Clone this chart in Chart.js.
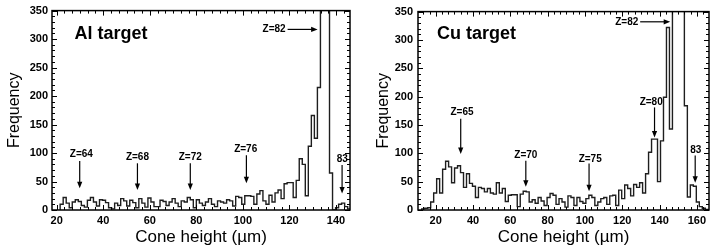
<!DOCTYPE html>
<html><head><meta charset="utf-8">
<script src="https://cdn.jsdelivr.net/npm/chart.js@4.4.1/dist/chart.umd.min.js"></script>
<style>
html,body{margin:0;padding:0;background:#fff;}
#wrap{position:relative;width:720px;height:250px;overflow:hidden;}
.panel{position:absolute;top:0;width:360px;height:250px;}
</style></head><body>
<div id="wrap">
<div class="panel" style="left:0"><canvas id="al" width="360" height="250"></canvas></div>
<div class="panel" style="left:360px"><canvas id="cu" width="360" height="250"></canvas></div>
</div>
<script>
// ---------- data: Al target ----------
const alTitle = 'Al target';
const alBinStart = 21.5;
const alBinWidth = 1.3;
const alCounts = [
  10,22,12,4,14,18,15,8,5,17,
  22,14,7,18,17,13,4,2,12,8,
  20,16,7,17,13,4,20,12,5,21,
  14,6,6,17,15,8,14,20,12,6,
  16,14,22,18,4,18,12,8,14,20,
  10,6,16,14,12,18,16,7,24,22,
  10,25,25,24,10,28,34,16,10,26,
  14,30,35,20,46,48,48,22,52,90,
  80,25,112,166,126,215,480,620,540,65,
  0,4,10,12,6,2
];
const alXRange = [18, 146];
const alXTicks = [20,40,60,80,100,120,140];
const alMarkerLabels = ['Z=64','Z=68','Z=72','Z=76','83'];
const alMarkerLabelX = [30.6,54.7,77.4,101.2,142.7];
const alMarkerLabelY = [97,92,92,106,89];
const alMarkerX = [29.9,54.7,77.4,101.5,142.6];
const alMarkerTop = [86,82,82,96,79];
const alMarkerTip = [38,35,35,47,29];
const alPeakLabel = 'Z=82';
const alPeakLabelAt = [113.4, 317];
const alPeakArrow = [119.2, 132.1, 317];
const alTitleAt = [27.7, 301];

// ---------- data: Cu target ----------
const cuTitle = 'Cu target';
const cuBinStart = 12.5;
const cuBinWidth = 1.6;
const cuCounts = [
  2,3,4,14,30,55,30,72,86,76,
  48,74,78,66,40,64,47,42,22,40,
  38,32,38,30,28,48,30,38,15,26,
  27,27,6,28,33,32,14,18,12,22,
  16,8,22,29,26,10,20,14,5,25,
  22,8,22,15,12,20,26,22,8,14,
  20,22,10,25,26,8,35,20,44,38,
  25,45,40,48,30,64,102,125,125,50,
  122,199,322,143,560,720,650,480,184,23,
  44,42,14,6,3,1
];
const cuXRange = [10.5, 166.5];
const cuXTicks = [20,40,60,80,100,120,140,160];
const cuMarkerLabels = ['Z=65','Z=70','Z=75','Z=80','83'];
const cuMarkerLabelX = [34.1,68.3,102.8,135.5,159.4];
const cuMarkerLabelY = [172,97,90,190,105];
const cuMarkerX = [33.4,68.3,102.2,137.3,159.1];
const cuMarkerTop = [161,87,82,181,96];
const cuMarkerTip = [99,41,33,128,48];
const cuPeakLabel = 'Z=82';
const cuPeakLabelAt = [122.4, 332];
const cuPeakArrow = [129.6, 145.7, 332];
const cuTitleAt = [20.7, 301];

// ---------- shared axis ----------
const yRange = [0, 350];
const yTicks = [0,50,100,150,200,250,300,350];
const yLabel = 'Frequency';
const xLabel = 'Cone height (\u00b5m)';

const FONT = '"Liberation Sans", Arial, Helvetica, sans-serif';
Chart.defaults.font.family = FONT;
Chart.defaults.color = '#000';

function histPoints(start, width, counts) {
  const pts = [{x: start, y: 0}];
  counts.forEach((c, i) => pts.push({x: start + i * width, y: c}));
  pts.push({x: start + counts.length * width, y: 0});
  return pts;
}

function decoPlugin(d) {
  return {
    id: 'deco',
    afterDatasetsDraw(chart) {
      const {ctx, chartArea: a, scales: {x, y}} = chart;
      const seg = (x1, y1, x2, y2) => { ctx.beginPath(); ctx.moveTo(x1, y1); ctx.lineTo(x2, y2); ctx.stroke(); };
      ctx.save();
      ctx.strokeStyle = '#000';
      ctx.fillStyle = '#000';
      ctx.lineWidth = 1.5;
      ctx.strokeRect(a.left, a.top, a.right - a.left, a.bottom - a.top);
      ctx.lineWidth = 1;
      // y ticks (inward, both sides)
      for (let v = yRange[0]; v <= yRange[1]; v += 10) {
        const py = Math.round(y.getPixelForValue(v)) + 0.5;
        const len = v % 50 === 0 ? 5 : 3;
        seg(a.left, py, a.left + len, py);
        seg(a.right, py, a.right - len, py);
      }
      // x ticks (inward, top and bottom)
      const step = 20 / 6;
      for (let m = d.xTicks[0] - 20; m <= d.xRange[1] + 0.01; m += 20) {
        for (let j = 0; j < 6; j++) {
          const v = m + j * step;
          if (v < d.xRange[0] || v > d.xRange[1]) continue;
          const px = Math.round(x.getPixelForValue(v)) + 0.5;
          const len = j === 0 ? 5 : 3;
          seg(px, a.bottom, px, a.bottom - len);
          seg(px, a.top, px, a.top + len);
        }
      }
      // vertical arrows with labels
      ctx.font = 'bold 10px ' + FONT;
      ctx.textAlign = 'center';
      ctx.textBaseline = 'middle';
      ctx.lineWidth = 1.2;
      d.labels.forEach((t, i) => {
        ctx.fillText(t, x.getPixelForValue(d.labelX[i]), y.getPixelForValue(d.labelY[i]));
        const px = x.getPixelForValue(d.markerX[i]);
        const y1 = y.getPixelForValue(d.top[i]);
        const y2 = y.getPixelForValue(d.tip[i]);
        seg(px, y1, px, y2 - 5);
        ctx.beginPath();
        ctx.moveTo(px, y2);
        ctx.lineTo(px - 2.6, y2 - 6.5);
        ctx.lineTo(px + 2.6, y2 - 6.5);
        ctx.closePath();
        ctx.fill();
      });
      // horizontal peak arrow
      ctx.fillText(d.peakLabel, x.getPixelForValue(d.peakLabelAt[0]), y.getPixelForValue(d.peakLabelAt[1]));
      const hx1 = x.getPixelForValue(d.peakArrow[0]);
      const hx2 = x.getPixelForValue(d.peakArrow[1]);
      const hy = y.getPixelForValue(d.peakArrow[2]);
      seg(hx1, hy, hx2 - 5, hy);
      ctx.beginPath();
      ctx.moveTo(hx2, hy);
      ctx.lineTo(hx2 - 6.5, hy - 2.6);
      ctx.lineTo(hx2 - 6.5, hy + 2.6);
      ctx.closePath();
      ctx.fill();
      // panel title
      ctx.font = 'bold 18px ' + FONT;
      ctx.textAlign = 'left';
      ctx.textBaseline = 'alphabetic';
      ctx.fillText(d.title, x.getPixelForValue(d.titleAt[0]), y.getPixelForValue(d.titleAt[1]));
      ctx.restore();
    }
  };
}

function makeChart(id, d) {
  return new Chart(document.getElementById(id), {
    type: 'line',
    data: {
      datasets: [{
        data: histPoints(d.start, d.width, d.counts),
        stepped: true,
        borderColor: '#1e1e1e',
        borderWidth: 1.4,
        pointRadius: 0,
        fill: false,
        tension: 0
      }]
    },
    options: {
      responsive: false,
      animation: false,
      events: [],
      devicePixelRatio: 1,
      layout: {padding: {left: 0, top: 10, right: d.padRight, bottom: 0}},
      plugins: {legend: {display: false}, tooltip: {enabled: false}},
      scales: {
        x: {
          type: 'linear',
          min: d.xRange[0], max: d.xRange[1],
          grid: {display: false, drawTicks: false},
          border: {display: false},
          afterBuildTicks: s => { s.ticks = d.xTicks.map(v => ({value: v})); },
          afterFit: s => { s.height = 40; },
          ticks: {font: {size: 11, weight: 'bold'}, color: '#000', padding: 4, maxRotation: 0, autoSkip: false},
          title: {display: true, text: xLabel, font: {size: 17}, color: '#000', padding: {top: 0, bottom: 2}}
        },
        y: {
          type: 'linear',
          min: yRange[0], max: yRange[1],
          grid: {display: false, drawTicks: false},
          border: {display: false},
          afterBuildTicks: s => { s.ticks = yTicks.map(v => ({value: v})); },
          afterFit: s => { s.width = d.yWidth; },
          ticks: {font: {size: 11, weight: 'bold'}, color: '#000', padding: d.yPad, autoSkip: false},
          title: {display: true, text: yLabel, font: {size: 16}, color: '#000', padding: {top: d.yTitlePad, bottom: 0}}
        }
      }
    },
    plugins: [decoPlugin(d)]
  });
}

makeChart('al', {
  start: alBinStart, width: alBinWidth, counts: alCounts,
  xRange: alXRange, xTicks: alXTicks,
  labels: alMarkerLabels, labelX: alMarkerLabelX, labelY: alMarkerLabelY,
  markerX: alMarkerX, top: alMarkerTop, tip: alMarkerTip,
  peakLabel: alPeakLabel, peakLabelAt: alPeakLabelAt, peakArrow: alPeakArrow,
  title: alTitle, titleAt: alTitleAt,
  yWidth: 52, yPad: 4, yTitlePad: 5, padRight: 10
});
makeChart('cu', {
  start: cuBinStart, width: cuBinWidth, counts: cuCounts,
  xRange: cuXRange, xTicks: cuXTicks,
  labels: cuMarkerLabels, labelX: cuMarkerLabelX, labelY: cuMarkerLabelY,
  markerX: cuMarkerX, top: cuMarkerTop, tip: cuMarkerTip,
  peakLabel: cuPeakLabel, peakLabelAt: cuPeakLabelAt, peakArrow: cuPeakArrow,
  title: cuTitle, titleAt: cuTitleAt,
  yWidth: 58, yPad: 5, yTitlePad: 14, padRight: 11
});
</script>
</body></html>
